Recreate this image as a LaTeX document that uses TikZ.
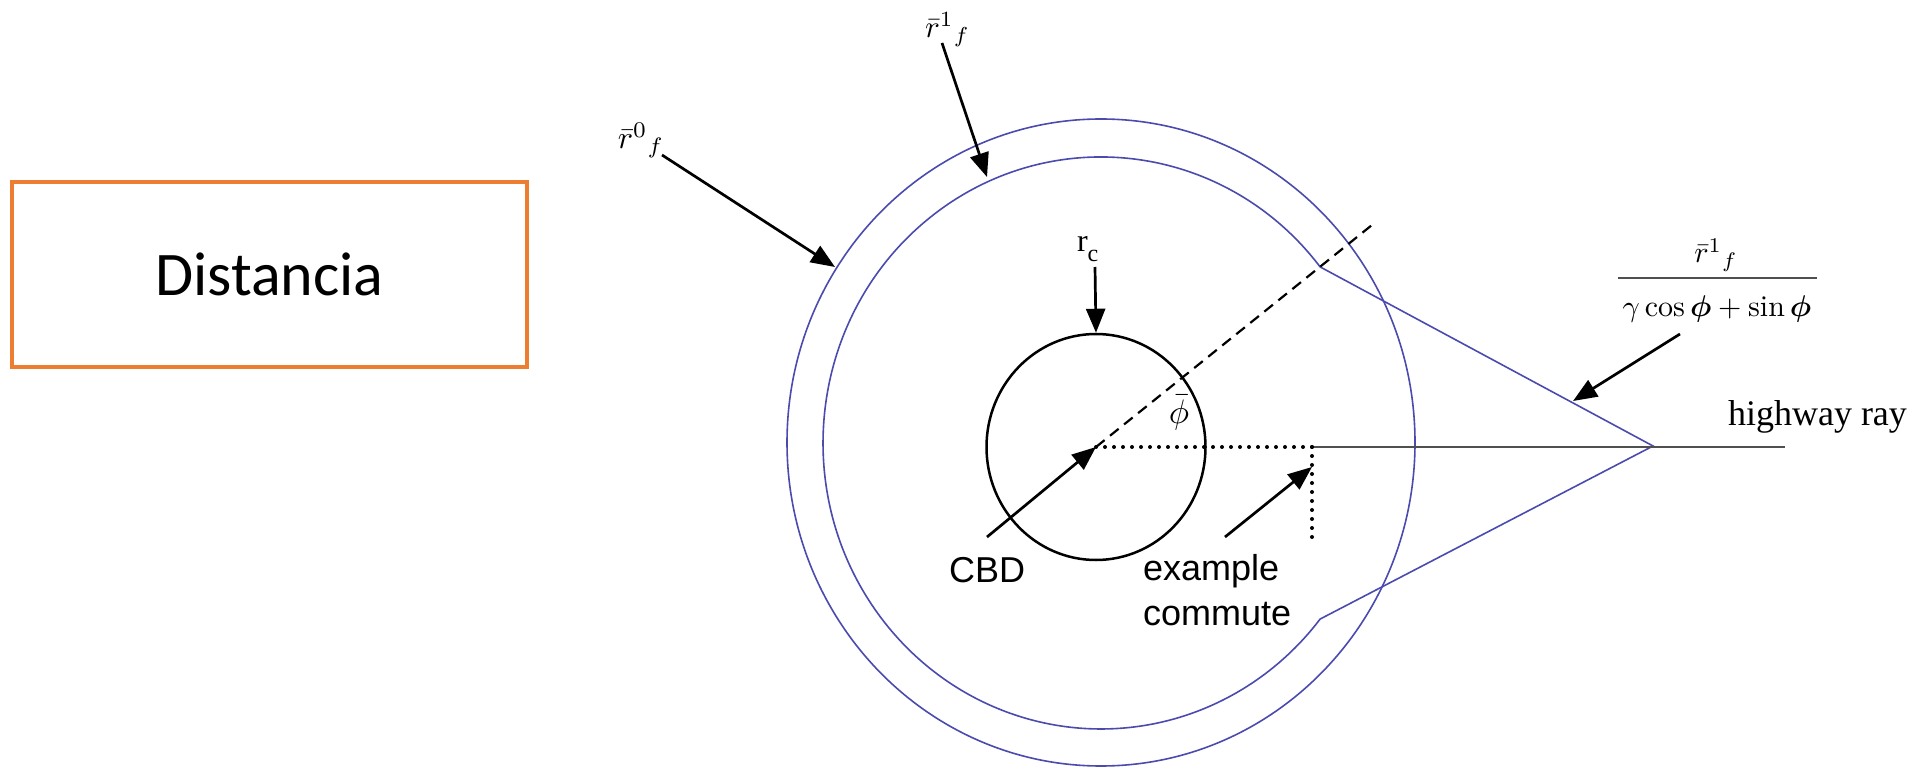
\documentclass[tikz,border=0pt]{standalone}
\usepackage{amsmath}
\usepackage{graphicx}
\usepackage{fontspec}
\newfontfamily\timesf{Liberation Serif}
\newfontfamily\arialf{Liberation Sans}
\newfontfamily\calib{Carlito}
\usetikzlibrary{arrows.meta,shapes.geometric}
\definecolor{ringblue}{RGB}{75,75,175}
\definecolor{boxorange}{RGB}{237,125,49}
\definecolor{raygray}{RGB}{80,80,80}
\tikzset{
  ring/.style={draw=ringblue, line width=1.6pt},
  ptr/.style={draw=black, line width=2.7pt, -{Triangle[length=24pt,width=19pt]}},
  dotline/.style={line width=4pt, line cap=round, dash pattern=on 0pt off 9pt},
  dashline/.style={line width=2.2pt, dash pattern=on 11pt off 7pt},
  lbl/.style={inner sep=0pt, outer sep=0pt},
  distbox/.style={draw=boxorange, line width=4.5pt, minimum width=515pt, minimum height=185pt, inner sep=0pt},
}
\begin{document}
\begin{tikzpicture}[x=1pt,y=1pt]
\useasboundingbox (0,0) rectangle (1930,769);

% left box
\node[distbox] (dist) at (269.5,494.5) {\calib\fontsize{62}{70}\selectfont Distancia};

% rings
\coordinate (O) at (1101,326.5);
\draw[ring] (O) ellipse [x radius=314pt, y radius=323.5pt];
\coordinate (apex) at (1653,323);
\draw[ring] (apex) -- (1320.1,502.1) arc[start angle=38, end angle=322, x radius=278pt, y radius=286pt] -- cycle;

% CBD circle
\coordinate (C) at (1096,322);
\node[draw, ellipse, line width=2.5pt, minimum width=219pt, minimum height=226pt, inner sep=0pt] (cbdc) at (C) {};

% highway ray and commute
\coordinate (hwstart) at (1312,322);
\coordinate (hwend) at (1785,322);
\coordinate (cmend) at (1312,231);
\draw[raygray, line width=2pt] (hwstart) -- (hwend);
\draw[dotline] (C) -- (hwstart);
\draw[dotline] (hwstart) -- (cmend);
\coordinate (phiend) at (1372,544);
\draw[dashline] (C) -- (phiend);

% labels
\node[lbl] (r0) at (641,628.5) {\scalebox{3.2}{$\bar{r}^{0}{}_{f}$}};
\node[lbl] (r1) at (947.5,739.5) {\scalebox{3.1}{$\bar{r}^{1}{}_{f}$}};
\node[lbl, anchor=base west] (rc) at (1077,517) {\timesf\fontsize{32}{36}\selectfont r\raisebox{-10pt}{\fontsize{24}{26}\selectfont c}};
\node[lbl] (phi) at (1179,356) {\scalebox{3.4}{$\bar{\phi}$}};
\node[lbl, anchor=base] (cbd) at (987,187) {\arialf\fontsize{36}{40}\selectfont CBD};
\node[lbl, anchor=base west, align=left, font={\arialf\fontsize{36}{45}\selectfont}] (ex) at (1143,144) {example\\commute};
\node[lbl, anchor=base west] (hw) at (1728,343) {\timesf\fontsize{36}{40}\selectfont highway ray};

% fraction label
\node[lbl, anchor=base] (num) at (1716,506) {\scalebox{3}{$\bar{r}^{1}{}_{f}$}};
\node[lbl, anchor=base] (den) at (1717,452) {\scalebox{3}{$\gamma\cos\boldsymbol{\phi}+\sin\boldsymbol{\phi}$}};
\coordinate (barL) at (1618,491);
\coordinate (barR) at (1817,491);
\draw[raygray, line width=2pt] (barL) -- (barR);

% arrows
\coordinate (r0tail) at (662,614);
\coordinate (r0tip) at (835,502);
\draw[ptr] (r0tail) -- (r0tip);
\coordinate (r1tail) at (942,726);
\coordinate (r1tip) at (987,592);
\draw[ptr] (r1tail) -- (r1tip);
\coordinate (rctail) at (1095,502);
\draw[ptr] (rctail) -- (cbdc.north);
\coordinate (cbdtail) at (987,232);
\draw[ptr] (cbdtail) -- (C);
\coordinate (extail) at (1225,232);
\coordinate (extip) at (1312,302);
\draw[ptr] (extail) -- (extip);
\coordinate (frtail) at (1680,435);
\coordinate (frtip) at (1573,368);
\draw[ptr] (frtail) -- (frtip);
\end{tikzpicture}
\end{document}
